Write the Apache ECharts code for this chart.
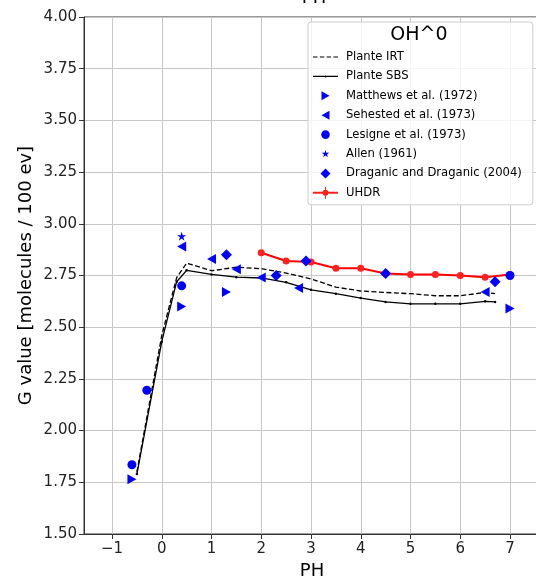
<!DOCTYPE html>
<html>
<head>
<meta charset="utf-8">
<title>OH^0 G value vs PH</title>
<script src="https://cdn.jsdelivr.net/npm/echarts@6/dist/echarts.min.js"></script>
<style>
  html, body { margin: 0; padding: 0; background: #fff; }
  #chart { width: 536px; height: 579px; }
</style>
</head>
<body>
<div id="chart"></div>
<script>
// Simulation curves (pH, G)
const plantePH = [-0.5, 0, 0.3, 0.5, 1, 1.5, 2, 2.5, 3, 3.5, 4, 4.5, 5, 5.5, 6, 6.5, 6.7];
const planteIRT = [1.80, 2.46, 2.74, 2.81, 2.773, 2.79, 2.783, 2.762, 2.733, 2.694, 2.675, 2.668, 2.662, 2.652, 2.652, 2.668, 2.662];
const planteSBS = [1.79, 2.43, 2.72, 2.775, 2.755, 2.742, 2.738, 2.717, 2.681, 2.662, 2.641, 2.622, 2.613, 2.613, 2.613, 2.625, 2.622];

// Literature measurements
const matthewsPH = [-0.6, 0.4, 1.3, 7.0];
const matthewsG = [1.765, 2.60, 2.67, 2.59];
const sehestedPH = [0.4, 1.0, 1.5, 2.0, 2.75, 6.5];
const sehestedG = [2.89, 2.83, 2.78, 2.74, 2.69, 2.67];
const lesignePH = [-0.6, -0.3, 0.4, 7.0];
const lesigneG = [1.835, 2.195, 2.70, 2.75];
const allenPH = [0.4];
const allenG = [2.94];
const draganicPH = [1.3, 2.3, 2.9, 4.5, 6.7];
const draganicG = [2.85, 2.75, 2.82, 2.76, 2.72];

// UHDR measurements
const uhdrPH = [2, 2.5, 3, 3.5, 4, 4.5, 5, 5.5, 6, 6.5, 7];
const uhdrG = [2.86, 2.82, 2.815, 2.785, 2.785, 2.76, 2.755, 2.755, 2.75, 2.742, 2.755];

const xTicks = [-1, 0, 1, 2, 3, 4, 5, 6, 7];

const zip = (xs, ys) => xs.map((x, i) => [x, ys[i]]);

const BLUE = '#0000ff';
const FONT = 'DejaVu Sans';

// plot markers
const triRight = 'path://M0,0 L10,5 L0,10 Z';
const triLeft = 'path://M10,0 L0,5 L10,10 Z';
const star = 'path://M50,0 L61.8,36.2 L100,36.2 L69.1,58.8 L80.9,95.1 L50,72.7 L19.1,95.1 L30.9,58.8 L0,36.2 L38.2,36.2 Z';

// legend icons, all drawn in a 25x14 box (tiny corner specks pin the box)
const box = 'M0,0 L0.01,0 L0,0.01 Z M25,14 L24.99,14 L25,13.99 Z ';
const lgRight = 'path://' + box + 'M8.5,2.5 L16.5,7 L8.5,11.5 Z';
const lgLeft = 'path://' + box + 'M16.5,2.5 L8.5,7 L16.5,11.5 Z';
const lgCircle = 'path://' + box + 'M8.2,7 A4.3,4.3 0 1 1 16.8,7 A4.3,4.3 0 1 1 8.2,7 Z';
const lgStar = 'path://' + box + 'M12.5,3 L13.4,5.8 L16.3,5.8 L14,7.5 L14.9,10.3 L12.5,8.6 L10.1,10.3 L11,7.5 L8.7,5.8 L11.6,5.8 Z';
const lgDiamond = 'path://' + box + 'M12.5,2 L17.5,7 L12.5,12 L7.5,7 Z';
const lgDash = 'path://' + box + 'M0,6.4 L4.5,6.4 L4.5,7.6 L0,7.6 Z M6.8,6.4 L11.3,6.4 L11.3,7.6 L6.8,7.6 Z M13.6,6.4 L18.1,6.4 L18.1,7.6 L13.6,7.6 Z M20.4,6.4 L24.9,6.4 L24.9,7.6 L20.4,7.6 Z';
const lgSolid = 'path://' + box + 'M0,6.4 L25,6.4 L25,7.6 L0,7.6 Z M11.5,7 A1,1 0 1 1 13.5,7 A1,1 0 1 1 11.5,7 Z';
const lgErr = 'path://' + box + 'M0,6 L25,6 L25,8 L0,8 Z M12,1 L13,1 L13,13 L12,13 Z M9.5,7 A3,3 0 1 1 15.5,7 A3,3 0 1 1 9.5,7 Z';

const chart = echarts.init(document.getElementById('chart'), null, { renderer: 'canvas' });

function scatter(name, xs, ys, symbol, size) {
  return {
    name,
    type: 'scatter',
    data: zip(xs, ys),
    symbol,
    symbolSize: size,
    itemStyle: { color: BLUE, opacity: 1 },
    z: 4,
  };
}

chart.setOption({
  animation: false,
  backgroundColor: '#fff',
  textStyle: { fontFamily: FONT },
  title: [
    {
      text: 'PH',
      left: 309, top: -16, textAlign: 'center',
      textStyle: { fontFamily: FONT, fontSize: 18, fontWeight: 'normal', color: '#000' },
    },
    {
      text: 'OH^0',
      left: 419, top: 26, textAlign: 'center',
      padding: 0,
      textStyle: { fontFamily: FONT, fontSize: 19, fontWeight: 'normal', color: '#000' },
      z: 10,
    },
  ],
  legend: {
    left: 308, top: 22,
    orient: 'vertical',
    padding: [28, 11, 5, 5],
    itemWidth: 25,
    itemHeight: 14,
    itemGap: 5.4,
    backgroundColor: 'rgba(255,255,255,0.8)',
    borderColor: '#cccccc',
    borderWidth: 1,
    borderRadius: 3,
    textStyle: { fontFamily: FONT, fontSize: 11.6, color: '#000', lineHeight: 14, padding: [0, 0, 0, 3] },
    data: [
      { name: 'Plante IRT', icon: lgDash },
      { name: 'Plante SBS', icon: lgSolid },
      { name: 'Matthews et al. (1972)', icon: lgRight },
      { name: 'Sehested et al. (1973)', icon: lgLeft },
      { name: 'Lesigne et al. (1973)', icon: lgCircle },
      { name: 'Allen (1961)', icon: lgStar },
      { name: 'Draganic and Draganic (2004)', icon: lgDiamond },
      { name: 'UHDR', icon: lgErr },
    ],
  },
  grid: {
    left: 84, right: -4, top: 17, bottom: 45,
    outerBoundsMode: 'none',
    show: true,
    borderColor: '#333',
    borderWidth: 1,
    backgroundColor: 'transparent',
  },
  xAxis: {
    type: 'value',
    min: -1.563, max: 7.603,
    name: 'PH',
    nameLocation: 'middle',
    nameGap: 27,
    nameTextStyle: { fontFamily: FONT, fontSize: 18, color: '#000', verticalAlign: 'top' },
    axisLine: { show: true, onZero: false, lineStyle: { color: '#333', width: 1 } },
    axisTick: { show: true, length: 5, inside: false, customValues: xTicks, lineStyle: { color: '#333' } },
    axisLabel: {
      customValues: xTicks,
      margin: 8,
      fontFamily: FONT, fontSize: 15, color: '#222',
      formatter: v => (v < 0 ? '\u2212' + Math.abs(v) : String(v)),
    },
    splitLine: { show: true, lineStyle: { color: '#c8c8c8', width: 1 } },
  },
  yAxis: {
    type: 'value',
    min: 1.5, max: 4.0, interval: 0.25,
    name: 'G value [molecules / 100 ev]',
    nameLocation: 'middle',
    nameGap: 49,
    nameMoveOverlap: false,
    nameTextStyle: { fontFamily: FONT, fontSize: 18, color: '#000' },
    axisLine: { show: true, onZero: false, lineStyle: { color: '#333', width: 1 } },
    axisTick: { show: true, length: 5, inside: false, lineStyle: { color: '#333' } },
    axisLabel: {
      margin: 7,
      fontFamily: FONT, fontSize: 15, color: '#222',
      formatter: v => v.toFixed(2),
    },
    splitLine: { show: true, lineStyle: { color: '#c8c8c8', width: 1 } },
  },
  series: [
    {
      name: 'Plante IRT',
      type: 'line',
      data: zip(plantePH, planteIRT),
      symbol: 'none',
      lineStyle: { color: '#000', width: 1.3, type: [5, 2.5] },
      itemStyle: { color: '#000' },
      z: 2,
    },
    {
      name: 'Plante SBS',
      type: 'line',
      data: zip(plantePH, planteSBS),
      symbol: 'circle',
      symbolSize: 2.5,
      showSymbol: true,
      lineStyle: { color: '#000', width: 1.3 },
      itemStyle: { color: '#000' },
      z: 2,
    },
    scatter('Matthews et al. (1972)', matthewsPH, matthewsG, triRight, [9, 10]),
    scatter('Sehested et al. (1973)', sehestedPH, sehestedG, triLeft, [9, 10]),
    scatter('Lesigne et al. (1973)', lesignePH, lesigneG, 'circle', 9),
    scatter('Allen (1961)', allenPH, allenG, star, 9),
    scatter('Draganic and Draganic (2004)', draganicPH, draganicG, 'diamond', 11),
    {
      name: 'UHDR',
      type: 'line',
      data: zip(uhdrPH, uhdrG),
      symbol: 'circle',
      symbolSize: 7,
      showSymbol: true,
      lineStyle: { color: '#ff0000', width: 2 },
      itemStyle: { color: '#ff2020' },
      z: 3,
    },
  ],
});
</script>
</body>
</html>
